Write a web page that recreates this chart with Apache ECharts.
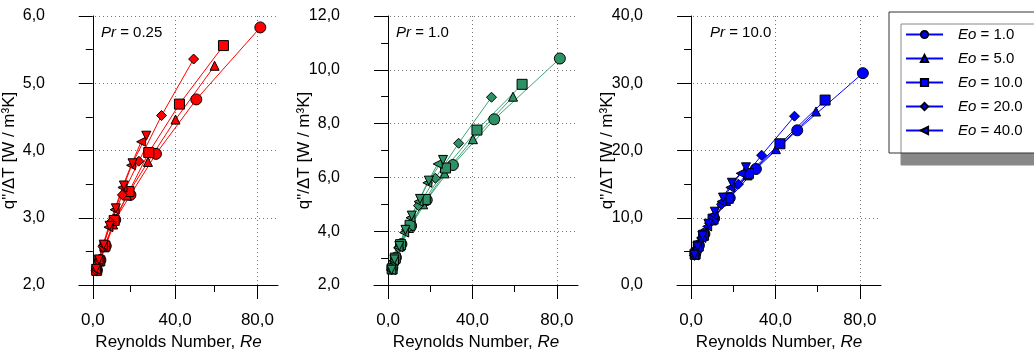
<!DOCTYPE html>
<html>
<head>
<meta charset="utf-8">
<script src="https://cdn.jsdelivr.net/npm/echarts@6/dist/echarts.min.js"></script>
<style>
    html, body { margin: 0; padding: 0; background: #fff; }
    #chart { width: 1034px; height: 359px; }
</style>
</head>
<body>
<div id="chart"></div>
<script>
// Reynolds numbers for each Eo (same for all Pr panels)
const reEo1 = [2.0, 3.7, 6.3, 10.9, 18.3, 30.7, 50.3, 81.4];
const reEo5 = [1.8, 3.3, 5.7, 9.9, 16.6, 26.8, 40.2, 59.2];
const reEo10 = [1.9, 3.4, 5.9, 10.4, 17.6, 27.2, 42.1, 63.5];
const reEo20 = [1.6, 2.9, 5.0, 8.7, 14.4, 22.4, 33.4, 49.0];
const reEo40 = [1.5, 2.8, 4.9, 7.6, 10.6, 14.4, 18.6, 23.5];
const reEo80 = [1.6, 3.0, 5.3, 8.2, 11.2, 15.1, 19.3, 26.0];

// q''/dT, Pr = 0.25
const q025Eo1 = [2.22, 2.37, 2.58, 2.97, 3.34, 3.95, 4.76, 5.83];
const q025Eo5 = [2.21, 2.35, 2.56, 2.90, 3.33, 3.83, 4.46, 5.26];
const q025Eo10 = [2.22, 2.36, 2.58, 2.96, 3.39, 3.97, 4.69, 5.56];
const q025Eo20 = [2.22, 2.36, 2.57, 2.93, 3.34, 3.84, 4.52, 5.36];
const q025Eo40 = [2.23, 2.37, 2.59, 2.86, 3.12, 3.45, 3.78, 4.13];
const q025Eo80 = [2.24, 2.38, 2.60, 2.88, 3.14, 3.48, 3.81, 4.22];

// Pr = 1.0
const q1Eo1 = [2.64, 3.02, 3.52, 4.20, 5.16, 6.46, 8.16, 10.42];
const q1Eo5 = [2.58, 2.96, 3.44, 4.12, 5.00, 6.15, 7.42, 9.00];
const q1Eo10 = [2.60, 3.00, 3.50, 4.22, 5.18, 6.35, 7.76, 9.46];
const q1Eo20 = [2.56, 2.90, 3.38, 4.05, 4.95, 5.97, 7.27, 8.98];
const q1Eo40 = [2.55, 2.90, 3.40, 3.95, 4.50, 5.10, 5.80, 6.50];
const q1Eo80 = [2.57, 2.95, 3.45, 4.05, 4.58, 5.20, 5.88, 6.65];

// Pr = 10.0
const q10Eo1 = [4.7, 5.9, 7.6, 9.9, 12.95, 17.25, 23.0, 31.5];
const q10Eo5 = [4.5, 5.7, 7.3, 9.6, 12.5, 16.3, 20.2, 25.8];
const q10Eo10 = [4.6, 5.8, 7.4, 9.8, 12.9, 16.6, 21.0, 27.5];
const q10Eo20 = [4.4, 5.5, 7.0, 9.2, 12.0, 15.0, 19.3, 25.1];
const q10Eo40 = [4.4, 5.5, 7.0, 8.7, 10.4, 12.4, 14.5, 16.6];
const q10Eo80 = [4.5, 5.7, 7.3, 9.1, 10.9, 13.0, 15.2, 17.5];

const legendNames = ['Eo = 1.0', 'Eo = 5.0', 'Eo = 10.0', 'Eo = 20.0', 'Eo = 40.0'];
const xMajorTicks = [0, 40, 80];
const xMinorTicks = [20, 60];

const FONT = 'Liberation Sans, Arial, sans-serif';
const comma = (v) => v.toFixed(1).replace('.', ',');

// marker per Eo: [symbol, size, rotate]
const markers = [
    ['circle', 11, 0],
    ['triangle', 9, 0],
    ['rect', 10, 0],
    ['path://M0,-1L1,0L0,1L-1,0Z', 10, 0],
    ['triangle', 9, 90],
    ['triangle', 9, 180]
];
const reList = [reEo1, reEo5, reEo10, reEo20, reEo40, reEo80];

const panels = [
    { left: 74, yMin: 2, yMax: 6, step: 1, fill: '#ff0000', line: '#ff0000', pr: '0.25', prLeft: 101,
      ys: [q025Eo1, q025Eo5, q025Eo10, q025Eo20, q025Eo40, q025Eo80] },
    { left: 374, yMin: 2, yMax: 12, step: 2, fill: '#2e9166', line: '#3aa575', pr: '1.0', prLeft: 396,
      ys: [q1Eo1, q1Eo5, q1Eo10, q1Eo20, q1Eo40, q1Eo80] },
    { left: 677, yMin: 0, yMax: 40, step: 10, fill: '#0000ff', line: '#0000ff', pr: '10.0', prLeft: 710,
      ys: [q10Eo1, q10Eo5, q10Eo10, q10Eo20, q10Eo40, q10Eo80] }
];

const grid = [], xAxis = [], yAxis = [], series = [], title = [];

panels.forEach((p, i) => {
    const g = i * 2;
    const box = { left: p.left, top: 16, width: 204, height: 269 };
    grid.push(Object.assign({}, box), Object.assign({}, box));

    xAxis.push({
        gridIndex: g,
        type: 'value',
        min: -6.7,
        max: 90,
        axisLine: { onZero: false, lineStyle: { color: '#000', width: 1 } },
        axisTick: { customValues: xMajorTicks, length: 14, lineStyle: { color: '#000' } },
        axisLabel: { customValues: xMajorTicks, margin: 27, color: '#000', fontSize: 17, fontFamily: FONT, formatter: comma },
        splitLine: { show: true, lineStyle: { color: '#777', type: [1, 3] } },
        name: 'Reynolds Number, {i|Re}',
        nameLocation: 'middle',
        nameGap: 49,
        nameMoveOverlap: false,
        nameTextStyle: {
            color: '#000', fontSize: 17, fontFamily: FONT,
            rich: { i: { fontStyle: 'italic', fontSize: 17, fontFamily: FONT, color: '#000' } }
        }
    }, {
        // second axis on the same box, only for the short ticks at 20 and 60
        gridIndex: g + 1,
        type: 'value',
        min: -6.7,
        max: 90,
        axisLine: { show: false, onZero: false },
        axisTick: { customValues: xMinorTicks, length: 7, lineStyle: { color: '#000' } },
        axisLabel: { show: false },
        splitLine: { show: false }
    });

    yAxis.push({
        gridIndex: g,
        type: 'value',
        min: p.yMin,
        max: p.yMax,
        interval: p.step,
        axisLine: { show: true, onZero: true, lineStyle: { color: '#000', width: 1 } },
        axisTick: { length: 14, lineStyle: { color: '#000' } },
        minorTick: { show: true, splitNumber: 2, length: 7, lineStyle: { color: '#000' } },
        axisLabel: { margin: 34, color: '#000', fontSize: 16, fontFamily: FONT, formatter: comma },
        splitLine: { show: true, lineStyle: { color: '#777', type: [1, 3] } },
        name: 'q"/ΔT [W / m³K]',
        nameLocation: 'middle',
        nameRotate: 90,
        nameGap: 61,
        nameMoveOverlap: false,
        nameTextStyle: { color: '#000', fontSize: 17, fontFamily: FONT }
    }, {
        gridIndex: g + 1,
        type: 'value',
        min: p.yMin,
        max: p.yMax,
        show: false
    });

    p.ys.forEach((vals, k) => {
        const m = markers[k];
        series.push({
            // legend icons come from the blue (last) panel
            name: (i === 2 && k < 5) ? legendNames[k] : 'Pr' + p.pr + '-' + k,
            type: 'line',
            xAxisIndex: g,
            yAxisIndex: g,
            data: vals.map((v, j) => [reList[k][j], v]),
            symbol: m[0],
            symbolSize: m[1],
            symbolRotate: m[2],
            showAllSymbol: true,
            lineStyle: { color: p.line, width: 1 },
            itemStyle: { color: p.fill, borderColor: '#000', borderWidth: 1 },
            emphasis: { disabled: true }
        });
    });

    title.push({
        text: '{i|Pr} = ' + p.pr,
        left: p.prLeft,
        top: 25,
        padding: 0,
        textStyle: {
            color: '#000', fontSize: 15, fontWeight: 'normal', fontFamily: FONT,
            rich: { i: { fontStyle: 'italic', fontSize: 15, fontFamily: FONT, color: '#000' } }
        }
    });
});

const myChart = echarts.init(document.getElementById('chart'));
const option = {
    animation: false,
    textStyle: { fontFamily: FONT },
    title: title,
    grid: grid,
    xAxis: xAxis,
    yAxis: yAxis,
    legend: {
        data: legendNames,
        orient: 'vertical',
        left: 889,
        top: 12,
        padding: [15, 70, 15, 16],
        itemWidth: 37,
        itemHeight: 9,
        itemGap: 9,
        backgroundColor: '#fff',
        borderColor: '#333',
        borderWidth: 1,
        shadowColor: '#888',
        shadowBlur: 0,
        shadowOffsetX: 12,
        shadowOffsetY: 12,
        selectedMode: false,
        formatter: (n) => n.replace('Eo', '{i|Eo}'),
        textStyle: {
            color: '#000', fontSize: 15, fontFamily: FONT, lineHeight: 14, padding: [0, 0, 0, 10],
            rich: { i: { fontStyle: 'italic', fontSize: 15, fontFamily: FONT, color: '#000' } }
        }
    },
    series: series
};
myChart.setOption(option);
</script>
</body>
</html>
